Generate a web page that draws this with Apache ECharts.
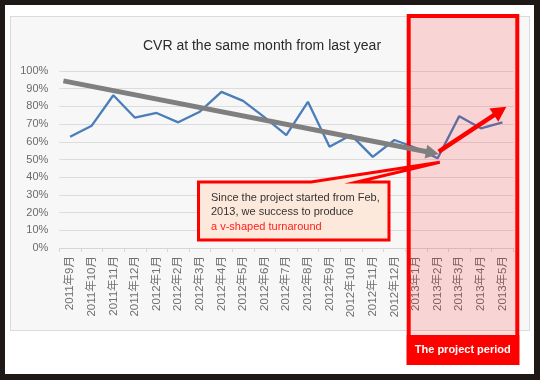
<!DOCTYPE html>
<html><head><meta charset="utf-8">
<script src="https://cdn.jsdelivr.net/npm/echarts@6/dist/echarts.min.js"></script>
<style>
html,body{margin:0;padding:0;background:#1e1916;width:540px;height:380px;overflow:hidden;}
#white{position:absolute;left:5px;top:5px;width:529px;height:369px;background:#ffffff;}
#box{position:absolute;left:10px;top:16px;width:518px;height:313px;background:#f7f7f7;border:1px solid #dadada;}
#c{position:absolute;left:0;top:0;width:540px;height:380px;}
</style></head><body>
<div id="white"></div><div id="box"></div><div id="c"></div>
<script>
const categories = ['2011年9月','2011年10月','2011年11月','2011年12月','2012年1月','2012年2月','2012年3月','2012年4月','2012年5月','2012年6月','2012年7月','2012年8月','2012年9月','2012年10月','2012年11月','2012年12月','2013年1月','2013年2月','2013年3月','2013年4月','2013年5月'];
const cvr = [62.9,69.1,86.3,73.6,76.3,71.0,77.0,88.2,83.1,73.8,63.8,82.6,57.2,63.8,51.5,61.0,56.5,50.7,74.5,67.6,71.0];
const yTickValues = [0,10,20,30,40,50,60,70,80,90,100];
const titleText = 'CVR at the same month from last year';
// annotation anchors in data space: [category index (fractional), percent]
const trendStart = [-0.31, 94.4];
const trendEnd = [17.05, 53.1];
const turnStart = [17.05, 54.4];
const turnEnd = [20.18, 79.8];
const calloutTip = [17.1, 48.4];
const projectStartIndex = 16;
const calloutLines = ['Since the project started from Feb,', '2013, we success to produce'];
const calloutHighlight = 'a v-shaped turnaround';
const periodLabel = 'The project period';

const chart = echarts.init(document.getElementById('c'), null, {renderer:'canvas'});
const font = '"Liberation Sans", Arial, "Noto Sans CJK JP", sans-serif';
chart.setOption({
  animation:false,
  textStyle:{fontFamily:font},
  title:{text:titleText,left:257,top:34,textAlign:'center',textStyle:{fontSize:14,fontWeight:'normal',color:'#2a2a2a',fontFamily:font}},
  grid:{left:59.3,right:26.7,top:71,bottom:132},
  xAxis:{type:'category',data:categories,boundaryGap:true,
    axisLine:{lineStyle:{color:'#d6d6d6',width:1}},
    axisTick:{show:true,length:4,lineStyle:{color:'#d6d6d6'}},
    axisLabel:{rotate:90,fontSize:11.5,color:'#707070',margin:8,fontFamily:font,interval:0}},
  yAxis:{type:'value',min:yTickValues[0],max:yTickValues[yTickValues.length-1],interval:10,
    axisLine:{show:false},axisTick:{show:false},
    axisLabel:{formatter:'{value}%',fontSize:11,color:'#6b6b6b',margin:11,fontFamily:font},
    splitLine:{lineStyle:{color:'#dcdcdc',width:1}}},
  series:[{type:'line',data:cvr,showSymbol:false,symbol:'none',lineStyle:{color:'#4a7ebb',width:2.3},z:3}]
});

function px(p){
  const a = chart.convertToPixel({xAxisIndex:0,yAxisIndex:0},[0,p[1]]);
  const b = chart.convertToPixel({xAxisIndex:0,yAxisIndex:0},[1,p[1]]);
  return [a[0]+(b[0]-a[0])*p[0], a[1]];
}
function arrow(s,e,color,w,hl,hw){
  const dx=e[0]-s[0], dy=e[1]-s[1], L=Math.hypot(dx,dy), ux=dx/L, uy=dy/L;
  const bx=e[0]-ux*hl, by=e[1]-uy*hl;
  return [
    {type:'line',z:120,shape:{x1:s[0],y1:s[1],x2:bx+ux*1,y2:by+uy*1},style:{stroke:color,lineWidth:w}},
    {type:'polygon',z:121,shape:{points:[[e[0],e[1]],[bx-uy*hw,by+ux*hw],[bx+uy*hw,by-ux*hw]]},style:{fill:color}}
  ];
}
const step = px([1,0])[0]-px([0,0])[0];
const bandL = px([projectStartIndex,0])[0]-step/2;
const bandR = px([categories.length-1,0])[0]+step/2;
const tip = px(calloutTip);
const boxL=198.5, boxT=182, boxR=389, boxB=240;
const els = [];
// project period box
els.push({type:'rect',z:110,shape:{x:bandL+3.5,y:16,width:(bandR+4)-(bandL+3.5),height:347},style:{fill:'rgba(255,0,0,0.14)',stroke:'#ff0000',lineWidth:4}});
els.push({type:'rect',z:111,shape:{x:bandL+1.5,y:335,width:(bandR+6)-(bandL+1.5),height:30},style:{fill:'#ff0000'}});
els.push({type:'text',z:112,style:{text:periodLabel,x:(bandL+bandR+7)/2,y:350,align:'center',verticalAlign:'middle',fill:'#fff',font:'bold 11px '+font}});
// arrows
arrow(px(trendStart),px(trendEnd),'#7f7f7f',5,13,7).forEach(e=>els.push(e));
arrow(px(turnStart),px(turnEnd),'#ff0000',4.5,15,8).forEach(e=>els.push(e));
// callout
els.push({type:'polygon',z:130,shape:{points:[[boxL,boxT],[311,boxT],[tip[0],tip[1]],[357,boxT],[boxR,boxT],[boxR,boxB],[boxL,boxB]]},style:{fill:'#fde9db',stroke:'#ff0000',lineWidth:3,lineJoin:'miter'}});
els.push({type:'text',z:131,style:{text:calloutLines[0],x:211,y:197.5,verticalAlign:'middle',fill:'#333',font:'11px '+font}});
els.push({type:'text',z:131,style:{text:calloutLines[1],x:211,y:212,verticalAlign:'middle',fill:'#333',font:'11px '+font}});
els.push({type:'text',z:131,style:{text:calloutHighlight,x:211,y:226.5,verticalAlign:'middle',fill:'#ff2020',font:'11px '+font}});
chart.setOption({graphic:{elements:els}});
</script></body></html>
